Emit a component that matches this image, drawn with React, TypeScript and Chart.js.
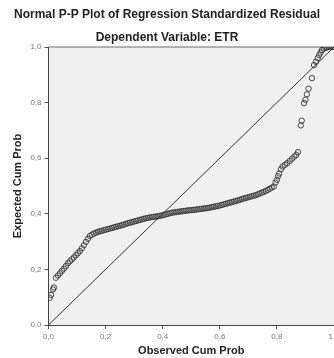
import React, { useEffect, useRef } from "react";
import { Chart, registerables } from "chart.js";

Chart.register(...registerables);

const titleText = "Normal P-P Plot of Regression Standardized Residual";
const subtitleText = "Dependent Variable: ETR";
const xAxisTitle = "Observed Cum Prob";
const yAxisTitle = "Expected Cum Prob";

const observedCumProb = [
  0.004, 0.009, 0.016, 0.019,
  0.026, 0.033, 0.040, 0.047, 0.054, 0.061, 0.068, 0.075, 0.082, 0.089,
  0.096, 0.103, 0.110, 0.117, 0.124, 0.131, 0.138, 0.145, 0.152, 0.159,
  0.166, 0.173, 0.180, 0.187, 0.194, 0.201, 0.208, 0.215, 0.222, 0.229,
  0.236, 0.243, 0.250, 0.257, 0.264, 0.271, 0.278, 0.285, 0.292, 0.299,
  0.306, 0.313, 0.320, 0.327, 0.334, 0.341, 0.348, 0.355, 0.362, 0.369,
  0.376, 0.383, 0.390, 0.397, 0.404, 0.411, 0.418, 0.425, 0.432, 0.439,
  0.446, 0.453, 0.460, 0.467, 0.474, 0.481, 0.488, 0.495, 0.502, 0.509,
  0.516, 0.523, 0.530, 0.537, 0.544, 0.551, 0.558, 0.565, 0.572, 0.579,
  0.586, 0.593, 0.600, 0.607, 0.614, 0.621, 0.628, 0.635, 0.642, 0.649,
  0.656, 0.663, 0.670, 0.677, 0.684, 0.691, 0.698, 0.705, 0.712, 0.719,
  0.726, 0.733, 0.740, 0.747, 0.754, 0.761, 0.768, 0.775, 0.782, 0.789,
  0.795, 0.800, 0.804, 0.808, 0.814, 0.820, 0.828, 0.836, 0.845, 0.853,
  0.861, 0.868, 0.874, 0.884, 0.887, 0.895, 0.900, 0.905, 0.911, 0.923,
  0.930, 0.937, 0.943, 0.948, 0.953, 0.958, 0.964, 0.970, 0.976, 0.982,
  0.988, 0.994, 1.0,
];

const expectedCumProb = [
  0.098, 0.108, 0.128, 0.135,
  0.170, 0.178, 0.186, 0.195, 0.203, 0.212, 0.222, 0.229, 0.236, 0.243,
  0.251, 0.258, 0.266, 0.276, 0.287, 0.299, 0.310, 0.320, 0.325, 0.329,
  0.332, 0.335, 0.337, 0.339, 0.341, 0.343, 0.345, 0.347, 0.349, 0.351,
  0.353, 0.355, 0.357, 0.359, 0.361, 0.364, 0.366, 0.368, 0.370, 0.372,
  0.374, 0.376, 0.378, 0.380, 0.382, 0.384, 0.385, 0.387, 0.388, 0.389,
  0.390, 0.391, 0.393, 0.394, 0.396, 0.398, 0.400, 0.402, 0.404, 0.405,
  0.406, 0.407, 0.408, 0.409, 0.410, 0.411, 0.412, 0.413, 0.413, 0.414,
  0.415, 0.416, 0.417, 0.418, 0.419, 0.420, 0.421, 0.422, 0.424, 0.425,
  0.427, 0.428, 0.430, 0.432, 0.434, 0.436, 0.438, 0.440, 0.442, 0.444,
  0.446, 0.448, 0.450, 0.453, 0.455, 0.457, 0.459, 0.461, 0.463, 0.465,
  0.467, 0.470, 0.473, 0.476, 0.479, 0.482, 0.486, 0.490, 0.494, 0.498,
  0.512, 0.522, 0.535, 0.545, 0.560, 0.570, 0.576, 0.582, 0.590, 0.598,
  0.606, 0.612, 0.622, 0.718, 0.735, 0.798, 0.810, 0.830, 0.850, 0.888,
  0.935, 0.947, 0.960, 0.971, 0.980, 0.989, 0.994, 0.997, 0.999, 1.0,
  1.0, 1.0, 1.0,
];

const referenceLineX = [0, 1];
const referenceLineY = [0, 1];

const tickValues = [0, 0.2, 0.4, 0.6, 0.8, 1.0];
const tickLabels = ["0,0", "0,2", "0,4", "0,6", "0,8", "1,0"];

const FONT = "'Liberation Sans', Arial, sans-serif";

const plotBackground = {
  id: "plotBackground",
  beforeDraw(chart: any) {
    const { ctx, chartArea } = chart;
    if (!chartArea) return;
    ctx.save();
    ctx.fillStyle = "#f0f0f0";
    ctx.fillRect(chartArea.left, chartArea.top, chartArea.right - chartArea.left, chartArea.bottom - chartArea.top);
    ctx.strokeStyle = "#9a9a9a";
    ctx.lineWidth = 1.5;
    ctx.beginPath();
    ctx.moveTo(chartArea.left, chartArea.top);
    ctx.lineTo(chartArea.right, chartArea.top);
    ctx.stroke();
    ctx.restore();
  },
};

export default function App() {
  const canvasRef = useRef<HTMLCanvasElement | null>(null);

  useEffect(() => {
    document.body.style.margin = "0";
    const canvas = canvasRef.current;
    if (!canvas) return;

    const points = observedCumProb.map((x, i) => ({ x, y: expectedCumProb[i] }));
    const line = referenceLineX.map((x, i) => ({ x, y: referenceLineY[i] }));

    const tickCallback = (value: any) => {
      const idx = tickValues.findIndex((t) => Math.abs(t - Number(value)) < 1e-6);
      return idx >= 0 ? tickLabels[idx] : "";
    };

    const chart = new Chart(canvas, {
      type: "scatter",
      data: {
        datasets: [
          {
            type: "line",
            data: line,
            borderColor: "#333333",
            borderWidth: 1,
            pointRadius: 0,
            fill: false,
          } as any,
          {
            data: points,
            pointRadius: 2.7,
            pointBorderWidth: 1,
            pointBorderColor: "rgba(55,55,55,0.9)",
            pointBackgroundColor: "rgba(0,0,0,0)",
            borderColor: "rgba(55,55,55,0.9)",
            backgroundColor: "rgba(0,0,0,0)",
          },
        ],
      },
      options: {
        responsive: false,
        animation: false,
        layout: { padding: 0, autoPadding: false },
        plugins: {
          legend: { display: false },
          tooltip: { enabled: false },
          title: {
            display: true,
            text: titleText,
            color: "#222222",
            font: { family: FONT, size: 12, weight: "bold" },
            padding: { top: 7.3, bottom: 0 },
          },
          subtitle: {
            display: true,
            text: subtitleText,
            color: "#222222",
            font: { family: FONT, size: 12, weight: "bold" },
            padding: { top: 8.6, bottom: 2.3 },
          },
        },
        scales: {
          x: {
            type: "linear",
            min: 0,
            max: 1,
            afterBuildTicks: (s: any) => {
              s.ticks = tickValues.map((v) => ({ value: v }));
            },
            afterFit: (s: any) => {
              s.height = 33;
              s.paddingLeft = 0;
              s.paddingRight = 0;
            },
            ticks: {
              callback: tickCallback,
              color: "#777777",
              font: { family: FONT, size: 8 },
              padding: 3,
              maxRotation: 0,
              autoSkip: false,
            },
            grid: {
              display: true,
              drawOnChartArea: false,
              drawTicks: true,
              tickLength: 4,
              color: "#555555",
            },
            border: { display: true, color: "#444444", width: 1 },
            title: {
              display: true,
              text: xAxisTitle,
              color: "#222222",
              font: { family: FONT, size: 11, weight: "bold" },
              padding: { top: 0, bottom: 0.5 },
            },
          },
          y: {
            type: "linear",
            min: 0,
            max: 1,
            afterBuildTicks: (s: any) => {
              s.ticks = tickValues.map((v) => ({ value: v }));
            },
            afterFit: (s: any) => {
              s.width = 48.5;
              s.paddingTop = 0;
              s.paddingBottom = 0;
            },
            ticks: {
              callback: tickCallback,
              color: "#777777",
              font: { family: FONT, size: 8 },
              padding: 3,
              autoSkip: false,
            },
            grid: {
              display: true,
              drawOnChartArea: false,
              drawTicks: true,
              tickLength: 4,
              color: "#555555",
            },
            border: { display: true, color: "#444444", width: 1 },
            title: {
              display: true,
              text: yAxisTitle,
              color: "#222222",
              font: { family: FONT, size: 11, weight: "bold" },
              padding: { top: 11.4, bottom: 0 },
            },
          },
        },
      },
      plugins: [plotBackground],
    });

    return () => chart.destroy();
  }, []);

  return (
    <div style={{ width: 334, height: 358 }}>
      <canvas ref={canvasRef} width={334} height={358} style={{ width: 334, height: 358, display: "block" }} />
    </div>
  );
}
